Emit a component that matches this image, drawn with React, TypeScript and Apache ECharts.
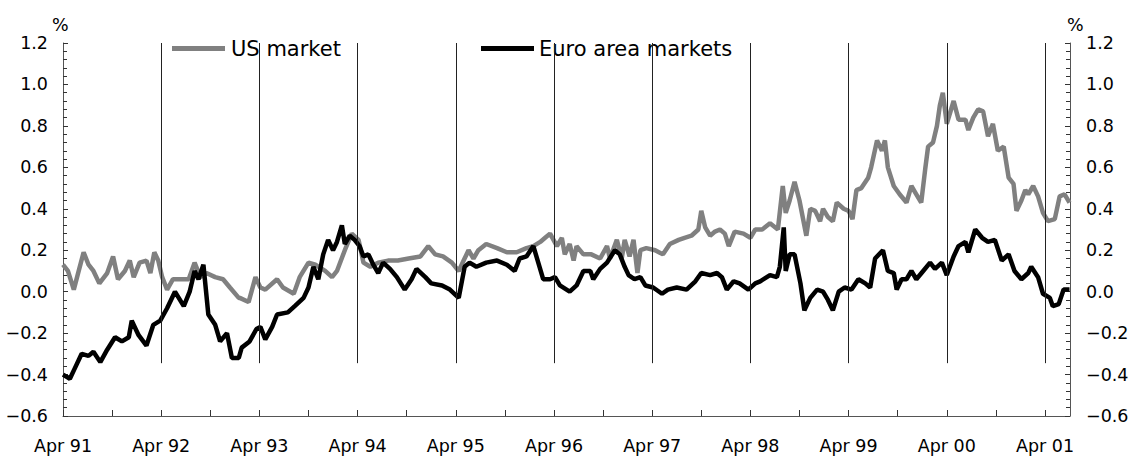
import React, { useEffect, useRef } from "react";
import * as echarts from "echarts";

// Dates as decimal years (Apr 1991 = 1991.25)
const usDates = [
  1991.25, 1991.3, 1991.36, 1991.41, 1991.46, 1991.51, 1991.56, 1991.62, 1991.7, 1991.76,
  1991.81, 1991.88, 1991.93, 1991.97, 1992.03, 1992.1, 1992.14, 1992.18, 1992.22, 1992.26,
  1992.31, 1992.37, 1992.44, 1992.53, 1992.59, 1992.65, 1992.71, 1992.8, 1992.88, 1992.95,
  1993.04, 1993.05, 1993.14, 1993.21, 1993.26, 1993.31, 1993.43, 1993.49, 1993.6, 1993.66,
  1993.75, 1993.82, 1993.92, 1993.99, 1994.04, 1994.12, 1994.19, 1994.26, 1994.31, 1994.38,
  1994.46, 1994.56, 1994.66, 1994.77, 1994.89, 1994.97, 1995.04, 1995.12, 1995.21, 1995.28,
  1995.33, 1995.38, 1995.43, 1995.48, 1995.56, 1995.67, 1995.77, 1995.87, 1995.97, 1996.04,
  1996.11, 1996.16, 1996.21, 1996.28, 1996.33, 1996.36, 1996.41, 1996.45, 1996.48, 1996.55,
  1996.63, 1996.72, 1996.79, 1996.82, 1996.89, 1996.94, 1996.97, 1997.02, 1997.06, 1997.1,
  1997.13, 1997.19, 1997.28, 1997.36, 1997.43, 1997.52, 1997.58, 1997.65, 1997.72, 1997.75,
  1997.79, 1997.84, 1997.89, 1997.94, 1997.99, 1998.03, 1998.09, 1998.18, 1998.25, 1998.3,
  1998.37, 1998.45, 1998.53, 1998.58, 1998.61, 1998.65, 1998.7, 1998.75, 1998.82, 1998.86,
  1998.91, 1998.96, 1998.99, 1999.04, 1999.09, 1999.13, 1999.2, 1999.25, 1999.29, 1999.33,
  1999.38, 1999.45, 1999.48, 1999.54, 1999.59, 1999.62, 1999.65, 1999.71, 1999.77, 1999.84,
  1999.89, 1999.94, 1999.99, 2000.03, 2000.06, 2000.11, 2000.15, 2000.18, 2000.21, 2000.25,
  2000.32, 2000.37, 2000.44, 2000.47, 2000.52, 2000.57, 2000.62, 2000.67, 2000.72, 2000.77,
  2000.83, 2000.88, 2000.93, 2000.96, 2001.01, 2001.05, 2001.08, 2001.13, 2001.18, 2001.23,
  2001.28, 2001.35, 2001.4, 2001.45, 2001.5,
];
const usValues = [
  0.13, 0.1, 0.01, 0.1, 0.19, 0.13, 0.1, 0.04, 0.09, 0.17,
  0.06, 0.1, 0.15, 0.07, 0.14, 0.15, 0.09, 0.19, 0.15, 0.07,
  0.01, 0.06, 0.06, 0.06, 0.14, 0.07, 0.09, 0.07, 0.06, 0.02,
  -0.03, -0.03, -0.05, 0.07, 0.02, 0.01, 0.06, 0.02, -0.01, 0.07,
  0.14, 0.13, 0.1, 0.07, 0.1, 0.2, 0.28, 0.25, 0.14, 0.12,
  0.14, 0.15, 0.15, 0.16, 0.17, 0.22, 0.18, 0.17, 0.14, 0.1,
  0.15, 0.2, 0.16, 0.2, 0.23, 0.21, 0.19, 0.19, 0.21, 0.22,
  0.24, 0.26, 0.28, 0.22, 0.26, 0.18, 0.23, 0.15, 0.22, 0.18,
  0.18, 0.16, 0.22, 0.16, 0.25, 0.16, 0.25, 0.17, 0.25, 0.09,
  0.2, 0.21, 0.2, 0.18, 0.23, 0.25, 0.26, 0.27, 0.3, 0.39,
  0.31, 0.27, 0.29, 0.3, 0.28, 0.22, 0.29, 0.28, 0.26, 0.3,
  0.3, 0.33, 0.3, 0.51, 0.38, 0.44, 0.53, 0.44, 0.27, 0.4,
  0.39, 0.34, 0.4, 0.36, 0.34, 0.43, 0.4, 0.39, 0.35, 0.49,
  0.5, 0.55, 0.6, 0.73, 0.68, 0.73, 0.6, 0.51, 0.47, 0.43,
  0.51, 0.47, 0.43, 0.59, 0.7, 0.72, 0.8, 0.9, 0.96, 0.81,
  0.92, 0.83, 0.83, 0.78, 0.84, 0.88, 0.87, 0.75, 0.81, 0.68,
  0.7, 0.55, 0.52, 0.39, 0.44, 0.49, 0.47, 0.51, 0.46, 0.38,
  0.34, 0.35, 0.46, 0.47, 0.43,
];

const euroDates = [
  1991.25, 1991.32, 1991.37, 1991.44, 1991.51, 1991.56, 1991.63, 1991.7, 1991.78, 1991.85,
  1991.92, 1991.95, 1992.02, 1992.1, 1992.17, 1992.24, 1992.31, 1992.39, 1992.48, 1992.54,
  1992.59, 1992.63, 1992.68, 1992.73, 1992.8, 1992.85, 1992.92, 1992.97, 1993.04, 1993.07,
  1993.15, 1993.22, 1993.26, 1993.31, 1993.38, 1993.43, 1993.54, 1993.61, 1993.7, 1993.75,
  1993.8, 1993.85, 1993.9, 1993.95, 1994.0, 1994.04, 1994.09, 1994.12, 1994.17, 1994.22,
  1994.27, 1994.31, 1994.36, 1994.41, 1994.46, 1994.51, 1994.58, 1994.65, 1994.73, 1994.8,
  1994.85, 1994.94, 1995.0, 1995.11, 1995.19, 1995.28, 1995.34, 1995.39, 1995.46, 1995.56,
  1995.67, 1995.77, 1995.85, 1995.9, 1995.97, 1996.04, 1996.09, 1996.14, 1996.21, 1996.26,
  1996.31, 1996.41, 1996.48, 1996.55, 1996.62, 1996.65, 1996.72, 1996.79, 1996.87, 1996.92,
  1996.97, 1997.01, 1997.07, 1997.13, 1997.18, 1997.26, 1997.35, 1997.41, 1997.5, 1997.6,
  1997.69, 1997.75, 1997.84, 1997.91, 1997.96, 1998.01, 1998.08, 1998.14, 1998.23, 1998.3,
  1998.35, 1998.45, 1998.52, 1998.55, 1998.59, 1998.61, 1998.65, 1998.7, 1998.76, 1998.8,
  1998.86, 1998.93, 1998.99, 1999.04, 1999.09, 1999.15, 1999.21, 1999.28, 1999.35, 1999.42,
  1999.47, 1999.52, 1999.6, 1999.65, 1999.71, 1999.74, 1999.79, 1999.84, 1999.89, 1999.94,
  2000.01, 2000.08, 2000.13, 2000.2, 2000.25, 2000.32, 2000.37, 2000.44, 2000.47, 2000.54,
  2000.61, 2000.67, 2000.74, 2000.81, 2000.88, 2000.94, 2001.01, 2001.08, 2001.11, 2001.18,
  2001.23, 2001.3, 2001.33, 2001.39, 2001.44, 2001.5,
];
const euroValues = [
  -0.4, -0.42, -0.37, -0.3, -0.31, -0.29, -0.34, -0.28, -0.22, -0.24,
  -0.22, -0.14, -0.21, -0.26, -0.16, -0.14, -0.08, 0.0, -0.07, 0.0,
  0.1, 0.06, 0.13, -0.11, -0.16, -0.24, -0.2, -0.32, -0.32, -0.27,
  -0.24, -0.18, -0.17, -0.23, -0.17, -0.11, -0.1, -0.07, -0.03, 0.02,
  0.12, 0.06, 0.18, 0.25, 0.2, 0.24, 0.32, 0.23, 0.27, 0.25,
  0.22, 0.17, 0.18, 0.13, 0.09, 0.14, 0.11, 0.07, 0.01, 0.06,
  0.11, 0.07, 0.04, 0.03, 0.01, -0.03, 0.12, 0.14, 0.12, 0.14,
  0.15, 0.13, 0.1, 0.16, 0.17, 0.22, 0.14, 0.06, 0.06, 0.07,
  0.03, 0.0, 0.03, 0.1, 0.1, 0.06, 0.11, 0.14, 0.2, 0.18,
  0.12, 0.08, 0.06, 0.07, 0.03, 0.02, -0.01, 0.01, 0.02, 0.01,
  0.05, 0.09, 0.08, 0.09, 0.07, 0.01, 0.05, 0.04, 0.01, 0.04,
  0.05, 0.08, 0.07, 0.12, 0.31, 0.1, 0.18, 0.18, 0.04, -0.09,
  -0.03, 0.01, 0.0, -0.04, -0.09, 0.0, 0.02, 0.01, 0.06, 0.04,
  0.02, 0.16, 0.2, 0.1, 0.09, 0.01, 0.06, 0.06, 0.1, 0.06,
  0.1, 0.14, 0.11, 0.14, 0.08, 0.17, 0.22, 0.24, 0.19, 0.3,
  0.26, 0.24, 0.25, 0.15, 0.18, 0.1, 0.06, 0.09, 0.12, 0.07,
  -0.01, -0.03, -0.07, -0.06, 0.01, 0.01,
];

const seriesNames = ["US market", "Euro area markets"];
const xTickValues = [
  1991.25, 1991.75, 1992.25, 1992.75, 1993.25, 1993.75, 1994.25, 1994.75, 1995.25, 1995.75,
  1996.25, 1996.75, 1997.25, 1997.75, 1998.25, 1998.75, 1999.25, 1999.75, 2000.25, 2000.75,
  2001.25,
];
const xLabelValues = [
  1991.25, 1992.25, 1993.25, 1994.25, 1995.25, 1996.25, 1997.25, 1998.25, 1999.25, 2000.25,
  2001.25,
];
const xLabels = [
  "Apr 91", "Apr 92", "Apr 93", "Apr 94", "Apr 95", "Apr 96", "Apr 97", "Apr 98", "Apr 99",
  "Apr 00", "Apr 01",
];
const dividerDates = [
  1992.25, 1993.25, 1994.25, 1995.25, 1996.25, 1997.25, 1998.25, 1999.25, 2000.25, 2001.25,
];
const dividerTop = 1.2;
const dividerBottom = -0.345;

const FONT = "DejaVu Sans";
const TICK_FONT = 17.5;

function fmtY(v: number): string {
  if (Math.abs(v) < 1e-9) return "0.0";
  return (v < 0 ? "\u2212" : "") + Math.abs(v).toFixed(1);
}

function fmtX(v: number): string {
  for (let i = 0; i < xLabelValues.length; i++) {
    if (Math.abs(xLabelValues[i] - v) < 1e-6) return xLabels[i];
  }
  return "";
}

function makeYAxis(position: "left" | "right") {
  return {
    type: "value",
    position,
    min: -0.6,
    max: 1.2,
    interval: 0.2,
    splitLine: { show: false },
    axisLine: { show: true, onZero: false, lineStyle: { color: "#555", width: 1 } },
    axisTick: { show: true, inside: true, length: 5, lineStyle: { color: "#333" } },
    minorTick: { show: true, splitNumber: 5, length: 4, lineStyle: { color: "#333" } },
    axisLabel: {
      formatter: fmtY,
      fontFamily: FONT,
      fontSize: TICK_FONT,
      color: "#000",
      margin: position === "left" ? 15 : 16,
      align: position === "left" ? "right" : "left",
    },
  };
}

export default function App() {
  const ref = useRef<HTMLDivElement>(null);
  useEffect(() => {
    if (!ref.current) return;
    const chart = echarts.init(ref.current, null, { renderer: "svg" });
    const option: any = {
      animation: false,
      backgroundColor: "#fff",
      grid: {
        left: 63,
        right: 58,
        top: 43,
        bottom: 40,
        containLabel: false,
        outerBoundsMode: "none",
      },
      legend: [
        {
          data: [seriesNames[0]],
          left: 172,
          top: 38,
          padding: 0,
          icon: "rect",
          itemWidth: 53,
          itemHeight: 5,
          textStyle: { fontFamily: FONT, fontSize: 21, color: "#000", padding: [5, 0, 0, 1] },
          selectedMode: false,
        },
        {
          data: [seriesNames[1]],
          left: 481,
          top: 38,
          padding: 0,
          icon: "rect",
          itemWidth: 53,
          itemHeight: 5,
          textStyle: { fontFamily: FONT, fontSize: 21, color: "#000", padding: [5, 0, 0, 0] },
          selectedMode: false,
        },
      ],
      xAxis: {
        type: "value",
        min: 1991.25,
        max: 2001.505,
        splitLine: { show: false },
        axisLine: { show: true, onZero: false, lineStyle: { color: "#555", width: 1 } },
        axisTick: {
          show: true,
          inside: true,
          length: 6,
          customValues: xTickValues,
          lineStyle: { color: "#333" },
        },
        axisLabel: {
          customValues: xLabelValues,
          formatter: fmtX,
          fontFamily: FONT,
          fontSize: TICK_FONT,
          color: "#000",
          margin: 21,
        },
      },
      yAxis: [makeYAxis("left"), makeYAxis("right")],
      graphic: [
        {
          type: "text",
          left: 52,
          top: 16,
          style: { text: "%", fontFamily: FONT, fontSize: TICK_FONT, fill: "#000" },
        },
        {
          type: "text",
          left: 1067,
          top: 16,
          style: { text: "%", fontFamily: FONT, fontSize: TICK_FONT, fill: "#000" },
        },
      ],
      series: [
        {
          type: "line",
          name: "dividers",
          data: [],
          z: 1,
          silent: true,
          markLine: {
            silent: true,
            symbol: "none",
            animation: false,
            label: { show: false },
            lineStyle: { color: "#222", width: 1, type: "solid" },
            data: dividerDates.map((d) => [
              { coord: [d, dividerTop] },
              { coord: [d, dividerBottom] },
            ]),
          },
        },
        {
          type: "line",
          name: seriesNames[0],
          data: usDates.map((d, i) => [d, usValues[i]]),
          showSymbol: false,
          symbol: "none",
          z: 2,
          itemStyle: { color: "#808080" },
          lineStyle: { color: "#808080", width: 4.5 },
        },
        {
          type: "line",
          name: seriesNames[1],
          data: euroDates.map((d, i) => [d, euroValues[i]]),
          showSymbol: false,
          symbol: "none",
          z: 3,
          itemStyle: { color: "#000" },
          lineStyle: { color: "#000", width: 4.5 },
        },
      ],
    };
    chart.setOption(option);
    return () => chart.dispose();
  }, []);
  return (
    <div
      ref={ref}
      style={{ position: "fixed", left: 0, top: 0, width: 1128, height: 456, background: "#fff" }}
    />
  );
}
